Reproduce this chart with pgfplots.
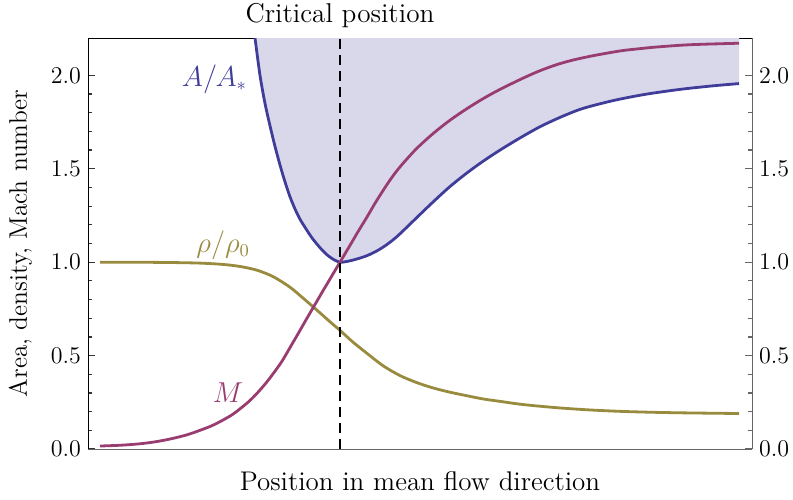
\documentclass[border=0pt]{standalone}
\usepackage{pgfplots}
\pgfplotsset{compat=1.18}
\definecolor{cA}{RGB}{63,61,153}
\definecolor{cM}{RGB}{153,61,113}
\definecolor{cR}{RGB}{153,139,61}
\definecolor{cF}{RGB}{217,216,234}
\begin{document}
\begin{tikzpicture}[font=\fontsize{12}{14}\selectfont]
\path[use as bounding box] (-44pt,-25pt) rectangle (352.5pt,224.5pt);
\pgfplotsset{
  common/.style={at={(0,0)}, anchor=south west, scale only axis,
    width=332pt, height=205.5pt, xmin=88, xmax=752, ymin=0, ymax=2.2,
    xtick=\empty, ytick={0,0.5,1,1.5,2}, minor y tick num=4,
    tick align=inside, major tick length=3.5pt, minor tick length=2pt,
    yticklabel style={/pgf/number format/.cd, fixed, fixed zerofill, precision=1},
    tick label style={font=\fontsize{12.5}{14}\selectfont},
  }
}
\begin{axis}[common, axis x line*=top, axis y line*=right,
  x axis line style={black, -}, y axis line style={black!60, -},
  every tick/.style={black!60, semithick}]
\end{axis}
\begin{axis}[common, axis x line*=bottom, axis y line*=left,
  x axis line style={black!60, -}, y axis line style={black, -},
  every tick/.style={black!80, semithick}, clip=true]
\addplot[fill=cF, draw=none] coordinates {
(253,2.28) (255,2.2) (260,2.0) (265,1.85) (270,1.73) (275,1.62) (280,1.52) (285,1.43) (290,1.35) (295,1.285) (300,1.23) (307,1.17) (312,1.13) (318,1.09) (323,1.06) (328,1.035) (334,1.013) (340,1.0) (346,1.003) (352,1.01) (360,1.022) (367,1.035) (375,1.055) (383,1.08) (392,1.115) (400,1.152) (417,1.24) (433,1.322) (450,1.405) (467,1.478) (483,1.54) (500,1.60) (520,1.665) (540,1.725) (560,1.775) (580,1.818) (600,1.848) (620,1.873) (647,1.90) (680,1.925) (713,1.944) (739,1.956) (739,2.3) (253,2.3)};
\addplot[cA, line width=1.4pt, smooth, tension=0.5] coordinates {
(253,2.28) (255,2.2) (260,2.0) (265,1.85) (270,1.73) (275,1.62) (280,1.52) (285,1.43) (290,1.35) (295,1.285) (300,1.23) (307,1.17) (312,1.13) (318,1.09) (323,1.06) (328,1.035) (334,1.013) (340,1.0) (346,1.003) (352,1.01) (360,1.022) (367,1.035) (375,1.055) (383,1.08) (392,1.115) (400,1.152) (417,1.24) (433,1.322) (450,1.405) (467,1.478) (483,1.54) (500,1.60) (520,1.665) (540,1.725) (560,1.775) (580,1.818) (600,1.848) (620,1.873) (647,1.90) (680,1.925) (713,1.944) (739,1.956)};
\addplot[cR, line width=1.4pt, smooth, tension=0.5] coordinates {
(100,1.0) (140,0.9996) (173,0.998) (200,0.995) (223,0.988) (240,0.977) (257,0.957) (273,0.923) (290,0.866) (303,0.808) (317,0.743) (330,0.681) (340,0.635) (353,0.572) (367,0.512) (383,0.446) (400,0.393) (417,0.355) (433,0.327) (450,0.304) (467,0.285) (483,0.268) (500,0.255) (523,0.238) (557,0.221) (590,0.209) (623,0.201) (657,0.196) (690,0.193) (739,0.19)};
\addplot[cM, line width=1.4pt, smooth, tension=0.5] coordinates {
(100,0.016) (120,0.02) (140,0.028) (157,0.04) (173,0.057) (187,0.076) (200,0.10) (212,0.125) (223,0.155) (232,0.183) (240,0.215) (249,0.255) (257,0.298) (265,0.347) (273,0.402) (282,0.47) (290,0.543) (297,0.607) (303,0.663) (310,0.728) (317,0.792) (323,0.847) (330,0.91) (340,1.0) (350,1.09) (358,1.163) (367,1.242) (375,1.315) (383,1.383) (391,1.447) (400,1.51) (416,1.605) (433,1.688) (450,1.76) (467,1.822) (483,1.875) (500,1.925) (523,1.985) (540,2.025) (557,2.058) (573,2.082) (590,2.102) (607,2.119) (623,2.133) (640,2.143) (657,2.152) (690,2.164) (739,2.172)};
\addplot[black, line width=1pt, dash pattern=on 5pt off 3pt] coordinates {(340,0) (340,2.2)};
\node[text=cA, anchor=east, font=\fontsize{13.5}{15}\selectfont] at (axis cs:254,1.98) {$A/A_*$};
\node[text=cR, anchor=east, font=\fontsize{13.5}{15}\selectfont] at (axis cs:257,1.09) {$\rho/\rho_0$};
\node[text=cM, font=\fontsize{13.5}{15}\selectfont] at (axis cs:228,0.30) {$M$};
\end{axis}
\node[anchor=base, font=\fontsize{13.6}{15}\selectfont] at (126pt,213pt) {Critical position};
\node[anchor=base, font=\fontsize{13.5}{15}\selectfont] at (166pt,-20.5pt) {Position in mean flow direction};
\node[anchor=base, rotate=90, font=\fontsize{12.7}{15}\selectfont] at (-30.5pt,102.75pt) {Area, density, Mach number};
\end{tikzpicture}
\end{document}
